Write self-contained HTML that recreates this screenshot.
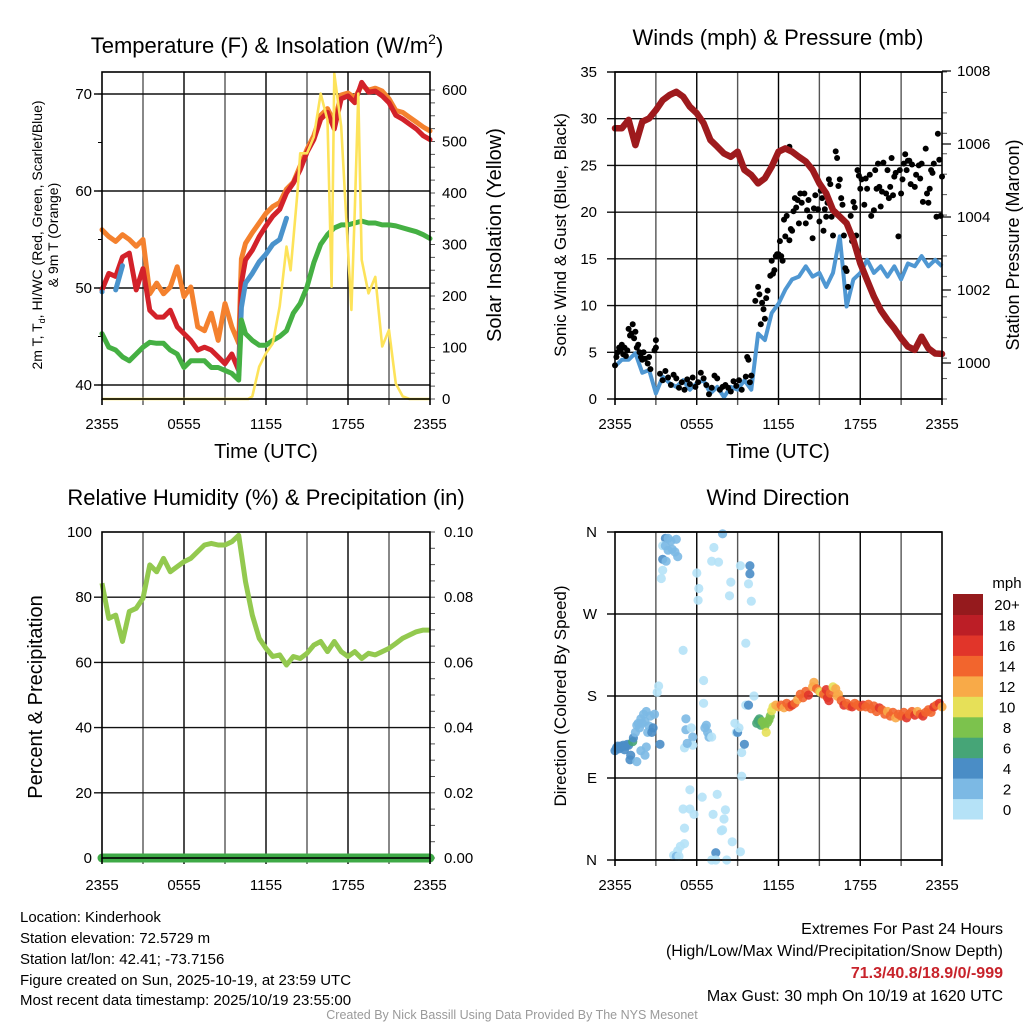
<!DOCTYPE html>
<html><head><meta charset="utf-8">
<style>
html,body{margin:0;padding:0;background:#fff;}
svg{display:block;font-family:"Liberation Sans",Arial,sans-serif;}
</style></head>
<body>
<svg id="root" width="1024" height="1024" viewBox="0 0 1024 1024" xmlns="http://www.w3.org/2000/svg">
<rect x="0" y="0" width="1024" height="1024" fill="#fff"/>
<text x="267" y="53" font-size="22" text-anchor="middle">Temperature (F) &amp; Insolation (W/m<tspan font-size="14" dy="-9">2</tspan><tspan dy="9">)</tspan></text>
<text x="778" y="45" font-size="22" text-anchor="middle">Winds (mph) &amp; Pressure (mb)</text>
<text x="266" y="505" font-size="22" text-anchor="middle">Relative Humidity (%) &amp; Precipitation (in)</text>
<text x="778" y="505" font-size="22" text-anchor="middle">Wind Direction</text>
<text transform="translate(42,235) rotate(-90)" font-size="14" text-anchor="middle">2m T, T<tspan font-size="9" dy="3">d</tspan><tspan dy="-3">, HI/WC (Red, Green, Scarlet/Blue)</tspan></text>
<text transform="translate(58,235) rotate(-90)" font-size="14" text-anchor="middle">&amp; 9m T (Orange)</text>
<text transform="translate(501,235) rotate(-90)" font-size="20" text-anchor="middle">Solar Insolation (Yellow)</text>
<text x="266" y="458" font-size="20" text-anchor="middle">Time (UTC)</text>
<text x="778" y="458" font-size="20" text-anchor="middle">Time (UTC)</text>
<text transform="translate(566,235) rotate(-90)" font-size="17" text-anchor="middle">Sonic Wind &amp; Gust (Blue, Black)</text>
<text transform="translate(1019,245) rotate(-90)" font-size="18" text-anchor="middle">Station Pressure (Maroon)</text>
<text transform="translate(42,697) rotate(-90)" font-size="20" text-anchor="middle">Percent &amp; Precipitation</text>
<text transform="translate(566,696) rotate(-90)" font-size="17" text-anchor="middle">Direction (Colored By Speed)</text>
<g font-size="15">
<text x="20" y="922">Location: Kinderhook</text>
<text x="20" y="943">Station elevation: 72.5729 m</text>
<text x="20" y="964">Station lat/lon: 42.41; -73.7156</text>
<text x="20" y="985">Figure created on Sun, 2025-10-19, at 23:59 UTC</text>
<text x="20" y="1005">Most recent data timestamp: 2025/10/19 23:55:00</text>
</g>
<g font-size="16" text-anchor="end">
<text x="1003" y="934">Extremes For Past 24 Hours</text>
<text x="1003" y="956">(High/Low/Max Wind/Precipitation/Snow Depth)</text>
<text x="1003" y="978" fill="#c8232b" font-weight="bold">71.3/40.8/18.9/0/-999</text>
<text x="1003" y="1001">Max Gust: 30 mph On 10/19 at 1620 UTC</text>
</g>
<text x="512" y="1019" font-size="12.5" fill="#9a9a9a" text-anchor="middle">Created By Nick Bassill Using Data Provided By The NYS Mesonet</text>
</svg>
<script>
// ---- data ----
const hours = [0,0.5,1,1.5,2,2.5,3,3.5,4,4.5,5,5.5,6,6.5,7,7.5,8,8.5,9,9.5,10,10.2,10.5,11,11.5,12,12.5,13,13.5,14,14.5,15,15.5,16,16.5,17,17.5,18,18.5,19,19.5,20,20.5,21,21.5,22,22.5,23,23.5,24];
const tempRed = [49.8,51.5,51.2,53.2,53.6,49.8,52,47.7,47,47,47.7,46,45.3,44.6,43.6,43.9,43.6,42.9,42.2,43.2,41.5,50.5,52.9,53.9,55.3,56.4,57.4,58.1,59.8,60.8,62.2,64,65.3,67.4,68.1,66.4,69.5,69.8,69.1,71.2,70.2,70.3,69.8,69.1,67.8,67.4,66.9,66.4,65.7,65.3];
const temp9m = [56,55.3,54.8,55.5,55,54.3,55,49.4,50.5,49.4,50.1,52.2,49.1,50.1,46,45.6,47.4,44.6,48.4,46,44.3,53,54.6,55.7,56.7,57.7,58.4,58.8,60.2,60.9,62.6,64.3,65.7,67.8,68.5,67.1,69.9,70.1,69.6,70.9,70.4,70.6,70.3,69.5,68.3,68.1,67.6,67.1,66.6,66.2];
const dewpoint = [45.3,43.9,43.6,42.9,42.5,43.2,43.9,44.4,44.3,44.3,43.6,43.2,41.8,42.5,42.5,42.5,41.8,41.8,41.5,41.2,40.5,46.7,45.3,44.6,44.1,44.1,44.6,45,45.6,47.4,48.4,50.1,52.6,54.5,55.5,56.2,56.5,56.5,56.7,56.9,56.7,56.7,56.5,56.5,56.4,56.2,56,55.8,55.5,55.1];
const windChill = [49.6,null,49.8,52.3,null,null,null,null,null,null,null,null,null,null,null,null,null,null,null,null,41,48,50.5,51.5,52.7,53.5,54.5,55,57.2,null,null,null,null,null,null,null,null,null,null,null,null,null,null,null,null,null,null,null,null,null];
const solarHours = [0,10.7,11,11.5,12,12.5,13,13.5,13.8,14,14.3,14.5,15,15.5,16,16.5,16.8,17,17.5,18,18.25,18.5,18.75,19,19.5,20,20.5,21,21.5,22,22.5,24];
const solarValues = [0,0,5,63,89,108,180,296,250,309,400,477,477,509,593,541,218,632,529,289,173,367,593,270,205,237,102,134,30,5,0,0];
const tempTicks = [40,50,60,70];
const solarTicks = [0,100,200,300,400,500,600];
const timeTickLabels = ["2355","0555","1155","1755","2355"];

const windHours = [0,0.5,1,1.5,2,2.5,3,3.5,4,4.5,5,5.5,6,6.5,7,7.5,8,8.5,9,9.5,10,10.5,11,11.5,12,12.5,13,13.5,14,14.5,15,15.5,16,16.5,17,17.5,18,18.5,19,19.5,20,20.5,21,21.5,22,22.5,23,23.5,24];
const pressure = [1006.43,1006.43,1006.66,1005.97,1006.61,1006.7,1006.93,1007.2,1007.34,1007.43,1007.3,1007.02,1006.84,1006.57,1006.11,1005.93,1005.74,1005.65,1005.79,1005.29,1005.15,1004.92,1005.06,1005.38,1005.79,1005.88,1005.79,1005.65,1005.52,1005.29,1004.92,1004.65,1004.19,1004.01,1003.83,1003.37,1002.73,1002.27,1001.82,1001.45,1001.18,1000.95,1000.68,1000.45,1000.36,1000.72,1000.4,1000.26,1000.25];
const windSpeed = [3.5,4.2,4.2,4.9,2.8,3.1,0.6,2.4,1.7,1.3,2,1,1.7,2,0.6,1.3,0.2,1.3,1,2,1,7,6.3,9.2,10.2,11.7,12.8,13.1,14.2,13.1,13.5,12,13.5,17.4,9.9,12.8,13.5,14.9,13.5,14.2,13.1,14.2,12.8,14.5,14.2,15.3,14.2,14.9,14.2];
const gustHours = [0,0.1,0.2,0.3,0.4,0.5,0.6,0.7,0.8,0.9,1,1.1,1.2,1.3,1.4,1.5,1.6,1.7,1.8,1.9,2,2.1,2.2,2.4,2.5,2.6,2.9,3,3,3.3,3.5,3.7,3.9,4.1,4.3,4.5,4.7,4.9,5.1,5.3,5.5,5.7,5.9,6.1,6.3,6.5,6.7,6.9,7.1,7.3,7.5,7.7,7.9,8.1,8.3,8.5,8.7,8.9,9.1,9.3,9.6,9.7,9.8,9.9,10,10.3,10.5,10.6,10.7,10.8,10.9,11,11.1,11.2,11.4,11.5,11.6,11.7,11.8,11.9,12,12.1,12.2,12.3,12.4,12.5,12.6,12.8,12.8,12.9,13,13.1,13.2,13.3,13.4,13.5,13.6,13.7,13.9,14,14.1,14.2,14.3,14.5,14.6,14.7,14.9,15,15.1,15.2,15.3,15.4,15.5,15.6,15.7,15.8,15.9,16,16.2,16.3,16.4,16.5,16.6,16.7,16.8,16.9,17,17.1,17.3,17.4,17.5,17.6,17.7,17.8,17.9,18,18.1,18.3,18.4,18.5,18.7,18.8,19,19.1,19.2,19.3,19.4,19.5,19.6,19.7,19.9,20,20.1,20.2,20.3,20.4,20.5,20.6,20.8,20.9,21,21.1,21.2,21.3,21.4,21.5,21.6,21.7,21.8,22,22.1,22.3,22.4,22.5,22.6,22.8,22.9,23,23.1,23.2,23.3,23.4,23.6,23.7,23.8,23.9,24];
const gustSpeeds = [3.6,4.5,5,5.5,5.2,5.8,4.8,5.5,4.6,5.2,7.5,6.8,7,8,6.5,7.2,5.5,5.8,5,4.5,4.2,5,4.3,3.8,4.5,3.2,5.2,6.3,5.5,2.7,2,3,2.3,1.5,2.6,2.2,1.2,1.8,1,2.1,1.6,2.3,1.3,1.8,2.8,2.2,1.5,0.5,1.2,2.5,2.2,1,1.3,1.5,1.2,0.8,1.9,1.4,2,1,2.4,4.5,4.2,1.8,2.5,10.5,12,11.2,8,10.3,9.6,8.6,10.8,11.6,13.2,14.8,13.4,13.8,15.3,15.5,15.5,16.9,15.3,14.8,19.2,17.4,19.6,17,27,18.2,18,20.1,21.5,20.5,21.3,18.8,22,21,22,18.8,20.2,21.3,19.5,17.2,20.4,21.8,20.3,19,22.3,21.5,18,20.3,19.5,21,23.5,23,19.5,17.5,26.5,25.8,22.8,23.5,21.5,20.8,17.5,14,13.7,12,19.6,16.9,21.1,20.5,17.5,24.5,23.9,22.5,23.5,20.8,23.6,22.5,24,19.6,20.2,24.5,22.5,25.2,22.7,20.6,22.2,25.3,22,24.5,21.5,22.7,25.8,21.8,23.8,24.2,17.4,24.5,22,23.5,25.2,26.2,24.5,25.5,25.5,23,25.1,22.7,24,25,23.6,25.2,21.1,26.8,22,21,22.5,24.5,24.2,25.2,19.5,28.4,25.6,19.6,23.8];
const windTicks = [0,5,10,15,20,25,30,35];
const pressureTicks = [1000,1002,1004,1006,1008];

const rhHours = [0,0.5,1,1.5,2,2.5,3,3.5,4,4.5,5,5.5,6,6.5,7,7.5,8,8.5,9,9.5,10,10.5,11,11.5,12,12.5,13,13.5,14,14.5,15,15.5,16,16.5,17,17.5,18,18.5,19,19.5,20,20.5,21,21.5,22,22.5,23,23.5,24];
const rhValues = [84.3,73.5,74.5,66.4,75.6,76.6,79.7,89.9,87.8,91.9,87.8,89.4,90.9,91.9,94,96,96.5,96,96,97,99,84.8,74.5,67.4,64.3,61.8,62.3,59.2,61.8,61.2,62.8,65.3,66.4,63.3,66.4,63.3,61.8,63.3,61.2,62.8,62.3,63.3,64.3,65.8,67.4,68.4,69.4,69.9,69.9];
const precipHours = [0,24];
const precipValues = [0,0];
const rhTicks = [0,20,40,60,80,100];
const precipTicks = ["0.00","0.02","0.04","0.06","0.08","0.10"];

const dirHours = [0,0.1,0.2,0.3,0.4,0.5,0.6,0.7,0.8,0.9,1,1.1,1.15,1.3,1.35,1.5,1.6,1.7,1.8,1.9,2,2.1,2.2,2.3,2.4,2.5,2.6,2.7,2.8,2.3,2.2,3.3,3.1,3.2,3.7,3.5,3.7,3.9,4.1,3.9,4.2,4.4,3.5,3.75,3.5,3.4,4.5,4.6,6,6.15,6.1,7.26,7.1,7.6,7.9,8.5,8.4,9.2,9.9,9.9,9.8,10,9.6,5,6.5,6.5,5.2,5.2,5.6,5.7,5.1,5.7,5.3,6.7,6.6,6.8,6.9,7.1,8.8,8.9,9,9.1,9.6,9.8,9.3,9.5,10.2,1.9,1.6,2.9,9.3,5.5,6.4,7.5,5.5,5,7.2,8.1,5.8,8,5.1,7.9,7.8,5.1,8.6,4.8,4.6,4.3,4.5,4.7,7.4,7.4,9.2,8.2,7.1,10.4,10.5,10.6,10.7,10.8,10.9,11,11.1,11.2,11.3,11.4,11.5,11.6,11.8,12,12.2,12.4,12.6,12.8,13,13.2,13.4,13.6,13.8,14,14.2,14.5,14.6,14.8,15,15.1,15.3,15.5,15.6,15.7,15.8,16,16.2,16.3,16.4,16.6,16.8,17,17.2,17.4,17.6,17.8,18,18.2,18.4,18.6,18.8,19,19.2,19.4,19.6,19.8,20,20.2,20.4,20.6,20.8,21,21.2,21.4,21.6,21.8,22,22.2,22.4,22.6,22.8,23,23.2,23.4,23.6,23.8,24];
const dirDegrees = [120,123,125,122,125,124,126,121,125,127,126,110,115,130,134,140,148,150,145,155,150,160,152,163,140,147,158,140,145,124,115,127,184,191,353,345,345,353,350,340,341,338,330,328,318,309,352,333,315,298,285,343,328,327,358,305,290,323,323,314,303,284,238,230,197,172,155,143,145,135,123,126,128,148,145,140,135,135,150,140,140,145,170,170,118,127,180,120,108,160,92,77,69,72,56,56,50,55,50,45,35,33,32,18,20,15,10,5,4,4,8,0,9,0,0,150,153,155,148,152,150,147,140,151,154,158,164,168,170,168,170,167,172,168,170,172,176,182,178,185,181,190,195,188,185,184,182,187,178,175,183,190,188,180,182,175,170,172,169,168,172,170,168,170,168,171,166,169,163,167,165,160,163,158,162,156,160,158,162,156,160,163,159,163,160,158,162,165,162,168,170,172,168];
const dirSpeeds = [4.5,4.5,4.5,4.5,4.5,4.5,4.5,4.5,4.5,4.5,4.5,4.5,4.5,6.5,5,3,3,3,3,3,3,3,3,3,3,3,3,4.5,4.5,3,3,4.5,1,1,4.5,1,3,3,3,3,3,3,4.5,3,1,1,3,3,1,1,1,1,1,1,2.5,1,1,1,4.5,4.5,1,1,1,1,1,1,3,3,1,3,1,1,3,3,3,3,3,1,1,1,4.5,1,1,4.5,1,4.5,1,3,3,3,1,1,1,1,1,1,1,1,1,1,1,1,1,1,1,1,1,1,3,1,4.5,1,1,1,1,6.5,6.5,6.5,6.5,8.5,8.5,8.5,10.5,8.5,8.5,8.5,10.5,10.5,12.5,12.5,14.5,12.5,14.5,14.5,16.5,14.5,12.5,14.5,14.5,14.5,16.5,12.5,12.5,14.5,12.5,10.5,14.5,16.5,16.5,16.5,14.5,10.5,12.5,12.5,12.5,14.5,16.5,14.5,14.5,16.5,14.5,14.5,14.5,16.5,14.5,14.5,14.5,14.5,14.5,16.5,14.5,14.5,12.5,14.5,14.5,12.5,14.5,14.5,14.5,16.5,14.5,14.5,16.5,12.5,14.5,16.5,14.5,14.5,14.5,16.5,14.5,16.5,12.5];
const dirTickLabels = ["N","E","S","W","N"];
const dirTickValues = [0,90,180,270,360];
const speedBinLabels = ["0","2","4","6","8","10","12","14","16","18","20+"];
const speedBinColors = ["#b5e2f7","#7cb9e4","#4a8dc6","#46a577","#7cc24d","#e6e058","#f8aa48","#f2652d","#e1352a","#bc1e26","#951a1d"];

// ---- helpers ----
const NS = "http://www.w3.org/2000/svg";
const root = document.getElementById("root");
function mk(tag, attrs, parent) {
  const e = document.createElementNS(NS, tag);
  for (const k in attrs) e.setAttribute(k, attrs[k]);
  (parent || root).appendChild(e);
  return e;
}
function lin(d0, d1, r0, r1) { return v => r0 + (v - d0) * (r1 - r0) / (d1 - d0); }
function pathFrom(xs, ys, xf, yf) {
  let d = "", pen = false;
  for (let i = 0; i < xs.length; i++) {
    if (ys[i] === null || ys[i] === undefined) { pen = false; continue; }
    d += (pen ? "L" : "M") + xf(xs[i]).toFixed(1) + "," + yf(ys[i]).toFixed(1);
    if (!pen && (i + 1 >= xs.length || ys[i + 1] === null)) d += "l0.1,0";
    pen = true;
  }
  return d;
}
function frame(name, L, R, T, B, hLines) {
  const g = mk("g", {});
  
  
  for (let i = 1; i < 8; i++) {
    const x = L + (R - L) * i / 8;
    const ln = mk("line", {x1: x, x2: x, y1: T, y2: B + 6, stroke: i % 2 ? "#555" : "#000", "stroke-width": 1.4}, g);
    
    
  }
  hLines.forEach(y => {
    const ln = mk("line", {x1: L - 8, x2: R, y1: y, y2: y, stroke: "#111", "stroke-width": 1.4}, g);
    
    
  });
  return g;
}
function border(name, L, R, T, B) {
  const r = mk("rect", {x: L, y: T, width: R - L, height: B - T, fill: "none", stroke: "#000", "stroke-width": 1.6});
  
  
  [L, R].forEach(x => {
    const t = mk("line", {x1: x, x2: x, y1: B, y2: B + 6, stroke: "#000", "stroke-width": 1.6});
    
    
  });
}
function xLabels(L, R, y) {
  timeTickLabels.forEach((s, i) => {
    const t = mk("text", {x: L + (R - L) * i / 4, y: y, "font-size": 15, "text-anchor": "middle"});
    t.textContent = s;
    
    
  });
}
function rightTicks(R, T, B, n) {
  for (let i = 0; i <= n; i++) {
    const y = T + (B - T) * i / n;
    const t = mk("line", {x1: R, x2: R + 5, y1: y, y2: y, stroke: "#555", "stroke-width": 1});
    
    
  }
}

// ===== Panel 1: Temperature =====
{
  const L = 102, R = 430, T = 72, B = 399;
  const x = lin(0, 24, L, R);
  const y = lin(50, 70, 288, 94);
  const ys = lin(0, 600, 399, 90);
  frame("temperature", L, R, T, B, tempTicks.map(y));
  rightTicks(R, 90, 399, 24);
  for (let v = 40; v <= 70; v += 5) {
    const t = mk("line", {x1: L - 4, x2: L, y1: y(v), y2: y(v), stroke: "#000", "stroke-width": 1});
    
    
  }
  const series = [[temp9m, "#f4812e", "orange-9m-temp-line"], [tempRed, "#d3222a", "red-2m-temp-line"], [windChill, "#4a93cc", "blue-windchill-line"], [dewpoint, "#45b043", "green-dewpoint-line"]];
  series.forEach(s => {
    const p = mk("path", {d: pathFrom(hours, s[0], x, y), fill: "none", stroke: s[1], "stroke-width": 5, "stroke-linejoin": "round", "stroke-linecap": "round"});
    
    
  });
  const sp = mk("path", {d: pathFrom(solarHours, solarValues, x, ys), fill: "none", stroke: "#fde35a", "stroke-width": 2.6, "stroke-linejoin": "round"});
  
  
  border("temperature", L, R, T, B);
  tempTicks.forEach(v => {
    const t = mk("text", {x: L - 10, y: y(v) + 5, "font-size": 15, "text-anchor": "end"});
    t.textContent = v;
    
    
  });
  solarTicks.forEach(v => {
    const t = mk("text", {x: R + 12, y: ys(v) + 5, "font-size": 15});
    t.textContent = v;
    
    
  });
  xLabels(L, R, 429);
}

// ===== Panel 2: Winds =====
{
  const L = 615, R = 942, T = 72, B = 399;
  const x = lin(0, 24, L, R);
  const y = lin(0, 35, 399, 72);
  const yp = lin(1000, 1006, 363, 144);
  frame("winds", L, R, T, B, windTicks.map(y));
  rightTicks(R, 72, 399, 16);
  const wp = mk("path", {d: pathFrom(windHours, windSpeed, x, y), fill: "none", stroke: "#4f97d2", "stroke-width": 4, "stroke-linejoin": "round"});
  
  
  const gg = mk("g", {fill: "#000"});
  
  
  gustHours.forEach((h, i) => {
    const c = mk("circle", {cx: x(h).toFixed(1), cy: y(gustSpeeds[i]).toFixed(1), r: 3}, gg);
    
    
  });
  const pp = mk("path", {d: pathFrom(windHours, pressure, x, yp), fill: "none", stroke: "#9e1a1d", "stroke-width": 6.5, "stroke-linejoin": "round", "stroke-linecap": "round"});
  
  
  border("winds", L, R, T, B);
  windTicks.forEach(v => {
    const t = mk("text", {x: L - 18, y: y(v) + 5, "font-size": 15, "text-anchor": "end"});
    t.textContent = v;
    
    
  });
  pressureTicks.forEach(v => {
    const tk = mk("line", {x1: R, x2: R + 9, y1: yp(v), y2: yp(v), stroke: "#000", "stroke-width": 1.2});
    
    
    const t = mk("text", {x: R + 15, y: yp(v) + 5, "font-size": 15});
    t.textContent = v;
    
    
  });
  xLabels(L, R, 429);
}

// ===== Panel 3: Humidity =====
{
  const L = 102, R = 430, T = 532, B = 858;
  const x = lin(0, 24, L, R);
  const y = lin(0, 100, 858, 532);
  const yq = lin(0, 0.1, 858, 532);
  frame("humidity", L, R, T, B, rhTicks.slice(1, 5).map(y));
  rightTicks(R, 532, 858, 20);
  const rp = mk("path", {d: pathFrom(rhHours, rhValues, x, y), fill: "none", stroke: "#93c94f", "stroke-width": 5, "stroke-linejoin": "round"});
  
  
  const qp = mk("path", {d: pathFrom(precipHours, precipValues, x, yq), fill: "none", stroke: "#3faa47", "stroke-width": 9, "stroke-linecap": "round"});
  
  
  border("humidity", L, R, T, B);
  rhTicks.forEach(v => {
    const t = mk("text", {x: L - 10, y: y(v) + 5, "font-size": 15, "text-anchor": "end"});
    t.textContent = v;
    
    
  });
  precipTicks.forEach(s => {
    const t = mk("text", {x: R + 14, y: yq(parseFloat(s)) + 5, "font-size": 15});
    t.textContent = s;
    
    
  });
  xLabels(L, R, 890);
}

// ===== Panel 4: Wind direction =====
{
  const L = 615, R = 942, T = 532, B = 860;
  const x = lin(0, 24, L, R);
  const y = lin(0, 360, 860, 532);
  frame("direction", L, R, T, B, dirTickValues.map(y));
  const g = mk("g", {"fill-opacity": 0.9});
  
  
  dirHours.forEach((h, i) => {
    const bin = Math.min(10, Math.floor(dirSpeeds[i] / 2));
    const c = mk("circle", {cx: x(h).toFixed(1), cy: y(dirDegrees[i]).toFixed(1), r: 4.6, fill: speedBinColors[bin]}, g);
    
    
  });
  border("direction", L, R, T, B);
  dirTickValues.forEach((v, i) => {
    const t = mk("text", {x: L - 18, y: y(v) + 5, "font-size": 15, "text-anchor": "end"});
    t.textContent = dirTickLabels[i];
    
    
  });
  xLabels(L, R, 890);
  const cb = mk("g", {});
  
  
  const top = 594, bot = 819, h = (bot - top) / 11;
  speedBinColors.forEach((col, i) => {
    const yy = bot - (i + 1) * h;
    const r = mk("rect", {x: 953, y: yy.toFixed(1), width: 30, height: (h + 0.5).toFixed(1), fill: col}, cb);
    
    
    const t = mk("text", {x: 1007, y: (yy + h / 2 + 6).toFixed(1), "font-size": 15, "text-anchor": "middle"}, cb);
    t.textContent = speedBinLabels[i];
    
    
  });
  const u = mk("text", {x: 1007, y: 588, "font-size": 15, "text-anchor": "middle"}, cb);
  u.textContent = "mph";
  
  
}
</script>
</body></html>
